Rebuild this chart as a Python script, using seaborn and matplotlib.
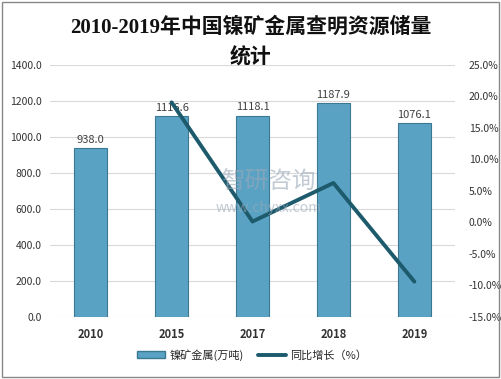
import matplotlib
matplotlib.use("Agg")
import matplotlib.pyplot as plt
import seaborn as sns
import pandas as pd
from matplotlib.patches import Rectangle, Patch
from matplotlib.lines import Line2D

years = ["2010", "2015", "2017", "2018", "2019"]
reserves = [938.0, 1116.6, 1118.1, 1187.9, 1076.1]
growth_years = ["2015", "2017", "2018", "2019"]
growth = [19.04, 0.13, 6.24, -9.41]
left_ticks = [0, 200, 400, 600, 800, 1000, 1200, 1400]
right_ticks = [-15, -10, -5, 0, 5, 10, 15, 20, 25]

sns.set_theme(style="white")
plt.rcParams['font.family'] = ['Noto Sans CJK SC', 'DejaVu Sans']

fig = plt.figure(figsize=(5.02, 3.79), dpi=100)
ax = fig.add_axes([0.1, 0.164, 0.806, 0.665])

df = pd.DataFrame({"year": years, "value": reserves})
sns.barplot(data=df, x="year", y="value", ax=ax, color="#5aa2c3",
            width=0.4, edgecolor="#3b7892", linewidth=0.8, saturation=1)
ax.set_xlim(-0.5, len(years) - 0.5)
ax.set_ylim(0, 1400)
ax.set_yticks(left_ticks)
ax.set_yticklabels([f"{v:.1f}" for v in left_ticks], fontsize=7.5, color="#333333")
ax.yaxis.grid(True, color="#d9d9d9", linewidth=0.8)
ax.set_axisbelow(True)
ax.set_xlabel("")
ax.set_ylabel("")
ax.set_xticks(range(len(years)))
ax.set_xticklabels(years, fontsize=8, fontweight="bold", color="#333333")
ax.tick_params(axis="both", length=0, pad=6)
ax.tick_params(axis="x", pad=8)
for s in ax.spines.values():
    s.set_visible(False)

for i, v in enumerate(reserves):
    ax.text(i, v + 18, f"{v:.1f}", ha="center", va="bottom", fontsize=8, color="#404040")

ax2 = ax.twinx()
ldf = pd.DataFrame({"pos": [years.index(y) for y in growth_years], "g": growth})
sns.lineplot(data=ldf, x="pos", y="g", ax=ax2, color="#1c5a6c", linewidth=2.8)
ax2.set_ylim(-15, 25)
ax2.set_yticks(right_ticks)
ax2.set_yticklabels([f"{v:.1f}%" for v in right_ticks], fontsize=7.5, color="#333333")
ax2.set_ylabel("")
ax2.set_xlabel("")
ax2.tick_params(axis="y", length=0, pad=10)
ax2.set_xlim(-0.5, len(years) - 0.5)
for s in ax2.spines.values():
    s.set_visible(False)

title_family = ['Liberation Serif', 'Noto Sans CJK SC']
fig.text(0.5, 0.927, "2010-2019年中国镍矿金属查明资源储量", ha="center", va="center",
         fontsize=15, family=title_family, fontweight="bold", color="#111111")
fig.text(0.5, 0.847, "统计", ha="center", va="center",
         fontsize=15, family=title_family, fontweight="bold", color="#111111")

fig.text(0.535, 0.52, "智研咨询", ha="center", va="center", fontsize=17,
         color="#9aa8b8", alpha=0.6)
fig.text(0.535, 0.45, "www.chyxx.com", ha="center", va="center", fontsize=10,
         color="#9aa8b8", alpha=0.6)

handles = [Patch(facecolor="#5aa2c3", edgecolor="#3b7892"),
           Line2D([0], [0], color="#1c5a6c", linewidth=2.8)]
fig.legend(handles, ["镍矿金属(万吨)", "同比增长（%）"], loc="center",
           bbox_to_anchor=(0.502, 0.063), ncol=2, frameon=False, fontsize=8,
           handlelength=2.5, handleheight=0.6, handletextpad=0.4, columnspacing=1.3)

fig.add_artist(Rectangle((0.004, 0.004), 0.99, 0.99, transform=fig.transFigure,
                         fill=False, edgecolor="#888888", linewidth=1))

fig.savefig("out.png", dpi=100)
